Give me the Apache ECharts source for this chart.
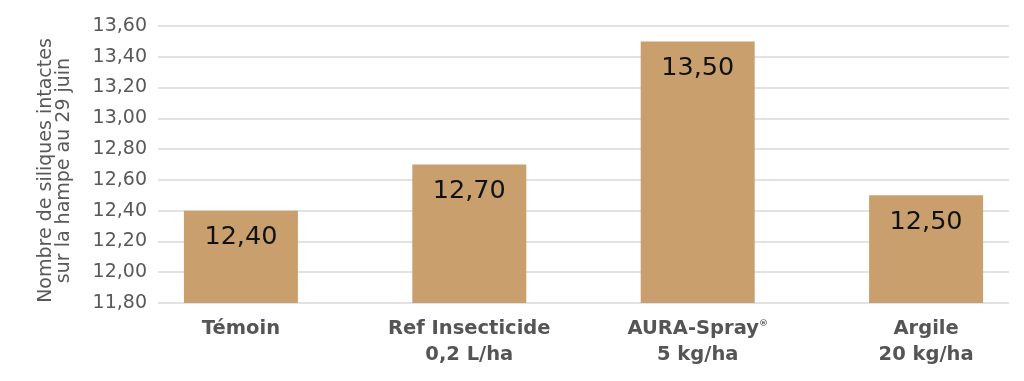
<!DOCTYPE html>
<html><head><meta charset="utf-8">
<script src="https://cdn.jsdelivr.net/npm/echarts@6/dist/echarts.min.js"></script>
<style>html,body{margin:0;padding:0;background:#fff}#c{width:1024px;height:381px}</style>
</head><body><div id="c"></div>
<script>
const categories = ['Témoin', 'Ref Insecticide\n0,2 L/ha', 'AURA-Spray{sup|®}\n5 kg/ha', 'Argile\n20 kg/ha'];
const values = [12.40, 12.70, 13.50, 12.50];
const yTicks = [11.8, 12.0, 12.2, 12.4, 12.6, 12.8, 13.0, 13.2, 13.4, 13.6];
const yName = 'Nombre de siliques intactes\nsur la hampe au 29 juin';

const fmt = v => v.toFixed(2).replace('.', ',');
const font = '"DejaVu Sans", Verdana, sans-serif';
const chart = echarts.init(document.getElementById('c'));
chart.setOption({
  animation: false,
  textStyle: { fontFamily: font },
  grid: { left: 158, right: 15, top: 26, bottom: 78 },
  xAxis: {
    type: 'value', min: -0.363, max: 3.363,
    splitLine: { show: false }, axisLine: { show: false }, axisTick: { show: false },
    axisLabel: {
      customValues: categories.map((c, i) => i),
      formatter: v => categories[Math.round(v)],
      color: '#555', fontSize: 19.5, fontWeight: 'bold', lineHeight: 26, margin: 13,
      fontFamily: font,
      rich: { sup: { fontSize: 9, fontWeight: 'bold', color: '#555', padding: [0, 0, 10, 0] } }
    }
  },
  yAxis: {
    type: 'value', min: yTicks[0], max: yTicks[yTicks.length - 1], interval: 0.2,
    axisLine: { show: false }, axisTick: { show: false },
    splitLine: { lineStyle: { color: '#d9d9d9', width: 1.5 } },
    axisLabel: { formatter: v => fmt(v), color: '#595959', fontSize: 19, margin: 11, fontFamily: font },
    name: yName, nameLocation: 'middle', nameRotate: 90, nameGap: 85,
    nameTextStyle: { color: '#595959', fontSize: 19, lineHeight: 18, fontFamily: font, padding: [0, 12, 0, 0] }
  },
  series: [{
    type: 'bar', barWidth: 114,
    data: values.map((v, i) => [i, v]),
    itemStyle: { color: '#C9A06D' },
    label: { show: true, position: 'insideTop', distance: 14, formatter: p => fmt(p.value[1]),
      color: '#111', fontSize: 25.5, fontFamily: font }
  }]
});
</script></body></html>
